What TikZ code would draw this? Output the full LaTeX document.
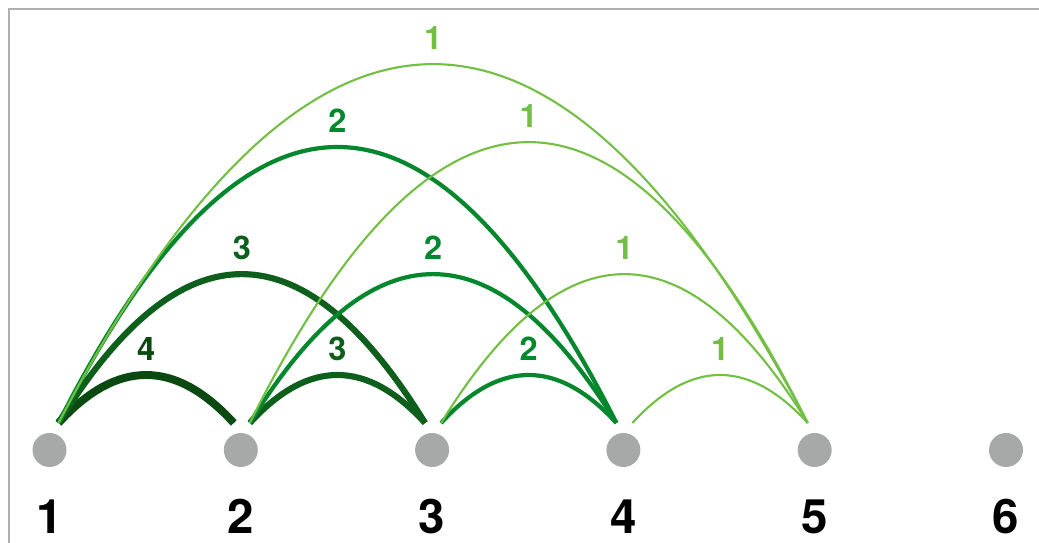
\documentclass[tikz,border=0pt]{standalone}
\usepackage{fontspec}
\setmainfont{TeX Gyre Heros}

\definecolor{arcone}{RGB}{114,191,68}
\definecolor{arctwo}{RGB}{5,135,45}
\definecolor{arcthree}{RGB}{14,94,28}
\definecolor{arcfour}{RGB}{10,74,16}
\definecolor{dotgray}{RGB}{167,169,168}
\definecolor{framegray}{RGB}{176,176,176}

\begin{document}
\begin{tikzpicture}[
    dot/.style={circle, fill=dotgray, minimum size=0.68cm, inner sep=0pt},
    num/.style={font=\fontsize{27}{27}\selectfont\bfseries, inner sep=0pt},
    wt/.style={font=\fontsize{18.5}{18.5}\selectfont\bfseries, text=#1, inner sep=0pt, yshift=0.52cm},
    wone/.style={draw=arcone, line width=1.2pt},
    wtwo/.style={draw=arctwo, line width=2.4pt},
    wthree/.style={draw=arcthree, line width=3.5pt},
    wfour/.style={draw=arcfour, line width=4.5pt}
    ]
        \useasboundingbox (0,0) rectangle (20.78,10.86);
        \draw[framegray, line width=1.1pt] (0.18,0) -- (0.18,10.68) -- (20.78,10.68);

        \foreach \i in {1,...,6}{
            \node[dot] (n\i) at ({0.99+3.826*(\i-1)},1.86) {};
            \node[num] (l\i) at ({0.99+3.826*(\i-1)},0.53) {\i};
            \coordinate (s\i) at ([shift={(0.18,0.54)}]n\i.center);
            \coordinate (e\i) at ([shift={(-0.14,0.54)}]n\i.center);
        }

        % poids 4
        \draw[wfour] (s1) .. controls +(1.17,1.28) and +(-1.17,1.28) .. (e2) node[wt=arcfour, pos=0.5] {4};

        % poids 3
        \draw[wthree] (s1) .. controls +(2.44,3.97) and +(-2.44,3.97) .. (e3) node[wt=arcthree, pos=0.5] {3};
        \draw[wthree] (s2) .. controls +(1.17,1.28) and +(-1.17,1.28) .. (e3) node[wt=arcthree, pos=0.5] {3};

        % poids 2
        \draw[wtwo] (s1) .. controls +(3.72,7.36) and +(-3.72,7.36) .. (e4) node[wt=arctwo, pos=0.5] {2};
        \draw[wtwo] (s2) .. controls +(2.44,3.97) and +(-2.44,3.97) .. (e4) node[wt=arctwo, pos=0.5] {2};
        \draw[wtwo] (s3) .. controls +(1.17,1.28) and +(-1.17,1.28) .. (e4) node[wt=arctwo, pos=0.5] {2};

        % poids 1
        \draw[wone] (s1) .. controls +(5.0,9.57) and +(-5.0,9.57) .. (e5) node[wt=arcone, pos=0.5] {1};
        \draw[wone] (s2) .. controls +(3.72,7.49) and +(-3.72,7.49) .. (e5) node[wt=arcone, pos=0.5] {1};
        \draw[wone] (s3) .. controls +(2.44,3.97) and +(-2.44,3.97) .. (e5) node[wt=arcone, pos=0.5] {1};
        \draw[wone] (s4) .. controls +(1.17,1.28) and +(-1.17,1.28) .. (e5) node[wt=arcone, pos=0.5] {1};
    \end{tikzpicture}
\end{document}
